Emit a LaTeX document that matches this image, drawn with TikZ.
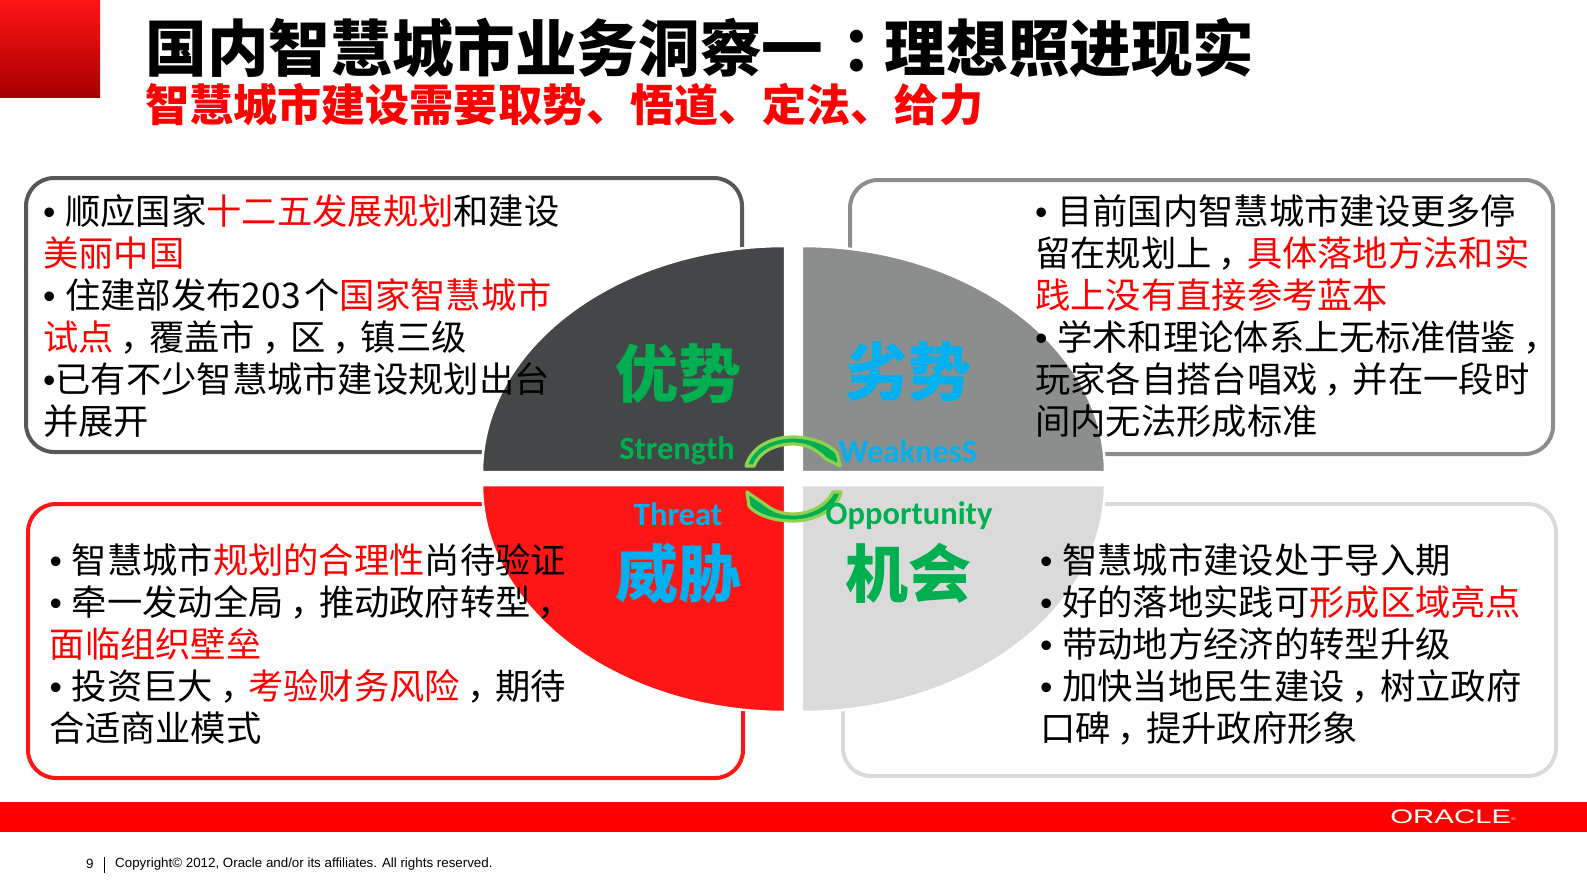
\documentclass[tikz,border=0pt]{standalone}
\usepackage{fontspec}
\usepackage{xcolor}
\setmainfont{Noto Sans CJK SC}
\newfontfamily\latinfont{Liberation Sans}
\newfontfamily\labelfont{Carlito}
\usetikzlibrary{positioning,calc}
\definecolor{oraclered}{HTML}{FF0000}
\definecolor{darkquad}{HTML}{434748}
\definecolor{greyquad}{HTML}{8A8F8E}
\definecolor{redquad}{HTML}{FF1515}
\definecolor{lightquad}{HTML}{DADADA}
\definecolor{labelgreen}{HTML}{00B050}
\definecolor{labelblue}{HTML}{00B0F0}
\definecolor{arrowlime}{HTML}{92D050}
\newcommand{\redtxt}[1]{\textcolor{oraclered}{#1}}
\newcommand{\bul}{{\latinfont•~}}
\newcommand{\cm}{\kern.2em，\kern-.2em}
\tikzset{
    swotbox/.style={line width=4pt, rounded corners=28pt},
    quad/.style={draw=white, line width=2.5pt},
    bodytext/.style={anchor=north west, inner sep=0pt, align=left, text=black, font=\fontsize{35.3}{42.1}\selectfont},
    bigword/.style={inner sep=0pt, font=\fontsize{63}{70}\selectfont\bfseries},
    engword/.style={inner sep=0pt, font=\fontsize{32.5}{36}\selectfont\labelfont\bfseries},
    swaparrow/.style={fill=labelgreen, draw=arrowlime, line width=3.2pt, line join=round}
}
\begin{document}
\begin{tikzpicture}[x=1pt, y=-1pt]
    \useasboundingbox (0,0) rectangle (1587,892);

    % Header
    \fill[top color=redquad, bottom color=red!65!black] (0,0) rectangle (100,97);
    \node[anchor=west, inner sep=0pt, font=\fontsize{61.6}{70}\selectfont\bfseries] (title) at (145.5,48)
        {国内智慧城市业务洞察一\kern.3em：\kern-.3em 理想照进现实};
    \node[anchor=west, inner sep=0pt, text=oraclered, font=\fontsize{44.1}{50}\selectfont\bfseries] (subtitle) at (145,105)
        {智慧城市建设需要取势、悟道、定法、给力};

    % Boxes
    \draw[swotbox, draw=darkquad!90] (26,178) rectangle (742,452);
    \draw[swotbox, draw=greyquad] (850,180) rectangle (1553,454);
    \draw[swotbox, draw=redquad] (28,504) rectangle (743,778);
    \draw[swotbox, draw=lightquad] (843,504) rectangle (1556,776);

    % Quadrants
    \draw[quad, fill=darkquad] (785.2,472) -- (482,472) .. controls (482,347) and (618,246) .. (785.2,246) -- cycle;
    \draw[quad, fill=greyquad] (801.8,472) -- (1105,472) .. controls (1105,347) and (969,246) .. (801.8,246) -- cycle;
    \draw[quad, fill=redquad] (785.2,485) -- (482,485) .. controls (482,610) and (618,712) .. (785.2,712) -- cycle;
    \draw[quad, fill=lightquad] (801.8,485) -- (1105,485) .. controls (1105,610) and (969,712) .. (801.8,712) -- cycle;

    % Arrows
    \draw[swaparrow] (746,466) .. controls (752,446) and (772,437) .. (793,437)
        .. controls (813,437) and (830,445) .. (837,453) -- (840,466) -- (826,459)
        .. controls (815,448) and (805,444) .. (793,444)
        .. controls (775,444) and (759,452) .. (754,466) -- cycle;
    \draw[swaparrow] (841,492) .. controls (838,509) and (815,521) .. (793,521)
        .. controls (772,521) and (755,514) .. (749,506) -- (747,492) -- (763,503)
        .. controls (772,510) and (780,514) .. (793,514)
        .. controls (810,514) and (827,505) .. (833,492) -- cycle;

    % Quadrant labels
    \node[bigword, text=labelgreen] (strength) at (678,374) {优势};
    \node[bigword, text=labelblue] (weakness) at (908,372) {劣势};
    \node[bigword, text=labelblue] (threat) at (678,573) {威胁};
    \node[bigword, text=labelgreen] (opportunity) at (908,573) {机会};
    \node[engword, text=labelgreen] (strengthen) at (677,451) {Strength};
    \node[engword, text=labelblue] (weaknessen) at (908,451) {WeaknesS};
    \node[engword, text=labelblue] (threaten) at (678,514) {Threat};
    \node[engword, text=labelgreen] (opportunityen) at (909,516) {Opportunity};

    % Box texts
    \node[bodytext] (tltext) at (43,194) {\bul 顺应国家\redtxt{十二五发展规划}和建设\\
        \redtxt{美丽中国}\\
        \bul 住建部发布203\kern4pt 个\redtxt{国家智慧城市}\\
        \redtxt{试点}\cm 覆盖市\cm 区\cm 镇三级\\
        {\latinfont•}已有不少智慧城市建设规划出台\\
        并展开};
    \node[bodytext] (trtext) at (1035,194) {\bul 目前国内智慧城市建设更多停\\
        留在规划上\cm\redtxt{具体落地方法和实}\\
        \redtxt{践上没有直接参考蓝本}\\
        \bul 学术和理论体系上无标准借鉴\cm\\
        玩家各自搭台唱戏\cm 并在一段时\\
        间内无法形成标准};
    \node[bodytext] (bltext) at (49.5,543) {\bul 智慧城市\redtxt{规划的合理性}尚待验证\\
        \bul 牵一发动全局\cm 推动政府转型\cm\\
        \redtxt{面临组织壁垒}\\
        \bul 投资巨大\cm\redtxt{考验财务风险}\cm 期待\\
        合适商业模式};
    \node[bodytext] (brtext) at (1040,543) {\bul 智慧城市建设处于导入期\\
        \bul 好的落地实践可\redtxt{形成区域亮点}\\
        \bul 带动地方经济的转型升级\\
        \bul 加快当地民生建设\cm 树立政府\\
        口碑\cm 提升政府形象};

    % Footer
    \fill[oraclered] (0,802) rectangle (1587,832);
    \node[inner sep=0pt, text=white, xscale=1.5, font=\fontsize{19.6}{22}\selectfont\latinfont] (logo) at (1453,817) {ORACLE{\fontsize{4}{4}\selectfont\raisebox{1.6ex}{®}}};
    \node[inner sep=0pt, anchor=west, font=\fontsize{13.35}{15}\selectfont\latinfont] (pagenum) at (86,864) {9};
    \coordinate (sepa) at (104,857);
    \coordinate (sepb) at (104,873);
    \draw[line width=0.8pt] (sepa) -- (sepb);
    \node[inner sep=0pt, anchor=west, font=\fontsize{13.35}{15}\selectfont\latinfont] (copyright) at (115,864) {Copyright© 2012, Oracle and/or its affiliates. All rights reserved.};
\end{tikzpicture}
\end{document}
